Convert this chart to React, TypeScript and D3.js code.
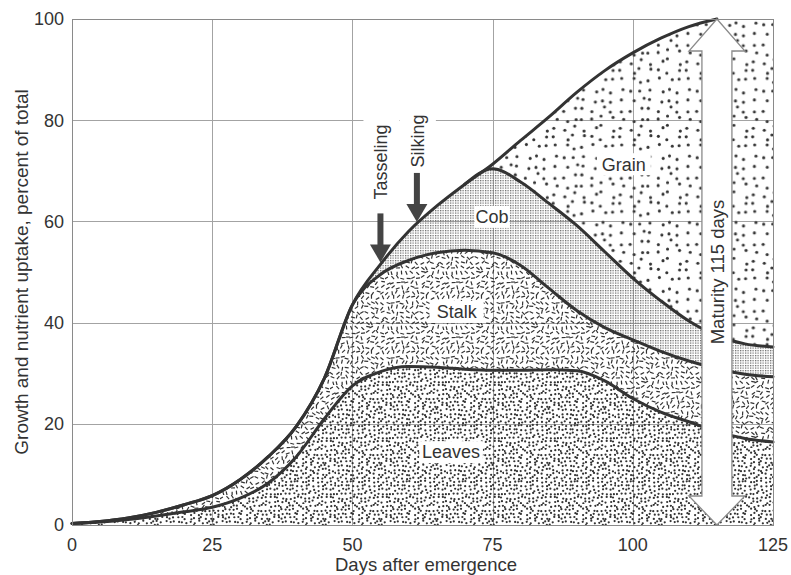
import React, { useMemo } from "react";
import * as d3 from "d3";

// ---- data (percent of total) ----
const days = [0, 5, 10, 15, 20, 25, 30, 35, 40, 45, 50, 55, 60, 65, 70, 75, 80, 85, 90, 95, 100, 105, 110, 115, 120, 125];
const leaves = [0.3, 0.6, 1.1, 1.8, 2.6, 3.5, 5.3, 8.3, 13.5, 21.0, 27.5, 30.3, 31.3, 31.2, 30.8, 30.6, 30.6, 30.7, 30.5, 28.5, 25.0, 22.3, 20.4, 18.5, 17.1, 16.4];
const stalk = [0, 0.1, 0.3, 0.7, 1.4, 2.3, 3.7, 5.2, 6.0, 8.0, 16.0, 19.2, 21.0, 22.6, 23.5, 23.2, 20.7, 16.1, 11.9, 10.5, 11.6, 12.0, 12.0, 12.4, 12.7, 12.9];
const cob = [0, 0, 0, 0, 0, 0, 0, 0, 0, 0, 0, 2.0, 5.7, 9.2, 13.0, 16.6, 16.5, 16.8, 16.8, 15.0, 12.2, 10.0, 7.9, 6.5, 6.0, 5.9];
const grain = [0, 0, 0, 0, 0, 0, 0, 0, 0, 0, 0, 0, 0, 0, 0, 0.9, 8.2, 17.0, 26.3, 35.8, 44.5, 51.9, 58.2, 62.6, 64.2, 64.8];
const seriesKeys = ["leaves", "stalk", "cob", "grain"];
const seriesLabels = ["Leaves", "Stalk", "Cob", "Grain"];
const xTicks = [0, 25, 50, 75, 100, 125];
const yTicks = [0, 20, 40, 60, 80, 100];
const events = [
  { label: "Tasseling", day: 55 },
  { label: "Silking", day: 61.5 },
];
const maturityDay = 115;

const W = 791;
const H = 575;
const FONT = "'Liberation Sans', Arial, Helvetica, sans-serif";
const INK = "#333";

function rng(seed: number) {
  let s = seed;
  return () => {
    s = (s * 16807) % 2147483647;
    return (s - 1) / 2147483646;
  };
}

function Patterns() {
  const leavesDots = useMemo(() => {
    const r = rng(7);
    const out: JSX.Element[] = [];
    const n = 14, c = 4;
    for (let i = 0; i < n; i++)
      for (let j = 0; j < n; j++)
        out.push(<circle key={i + "-" + j} cx={i * c + 0.6 + r() * 2.8} cy={j * c + 0.6 + r() * 2.8} r={1.12} fill="#333" />);
    return out;
  }, []);
  const stalkDashes = useMemo(() => {
    const r = rng(13);
    const out: JSX.Element[] = [];
    const n = 11, c = 5;
    for (let i = 0; i < n; i++)
      for (let j = 0; j < n; j++) {
        const cx = i * c + 1.2 + r() * 2.6;
        const cy = j * c + 1.2 + r() * 2.6;
        const a = r() * Math.PI;
        const L = 2.0;
        out.push(
          <line key={i + "-" + j} x1={cx - L * Math.cos(a)} y1={cy - L * Math.sin(a)} x2={cx + L * Math.cos(a)} y2={cy + L * Math.sin(a)} stroke="#333" strokeWidth={1.2} />
        );
      }
    return out;
  }, []);
  const grainDots = useMemo(() => {
    const r = rng(29);
    const out: JSX.Element[] = [];
    const n = 7, c = 9.5;
    for (let i = 0; i < n; i++)
      for (let j = 0; j < n; j++)
        out.push(<circle key={i + "-" + j} cx={i * c + 1.8 + r() * 6} cy={j * c + 1.8 + r() * 6} r={1.55} fill="#333" />);
    return out;
  }, []);
  return (
    <defs>
      <pattern id="pat-leaves" patternUnits="userSpaceOnUse" width={56} height={56}>
        {leavesDots}
      </pattern>
      <pattern id="pat-stalk" patternUnits="userSpaceOnUse" width={55} height={55}>
        {stalkDashes}
      </pattern>
      <pattern id="pat-cob" patternUnits="userSpaceOnUse" width={2.5} height={2.5}>
        <rect x={0} y={0} width={1.25} height={1.25} fill="#666" />
      </pattern>
      <pattern id="pat-grain" patternUnits="userSpaceOnUse" width={66.5} height={66.5}>
        {grainDots}
      </pattern>
    </defs>
  );
}

export default function App() {
  const x = d3.scaleLinear().domain([0, 125]).range([72, 773]);
  const y = d3.scaleLinear().domain([0, 100]).range([525, 19]);

  const rows = days.map((d, i) => ({ day: d, leaves: leaves[i], stalk: stalk[i], cob: cob[i], grain: grain[i] }));
  const stacked = d3.stack<any>().keys(seriesKeys)(rows);

  const area = d3
    .area<any>()
    .x((d) => x(d.data.day))
    .y0((d) => y(d[0]))
    .y1((d) => y(d[1]))
    .curve(d3.curveMonotoneX);
  const line = d3
    .line<any>()
    .x((d) => x(d.data.day))
    .y((d) => y(d[1]))
    .curve(d3.curveMonotoneX);

  const totalAt = (day: number) => {
    const tops = stacked[3].map((p) => p[1]);
    return d3.scaleLinear().domain(days).range(tops)(day);
  };

  const px = (v: number) => Math.round(v) + 0.5;

  // label centers in data units
  const labelPos: Record<string, [number, number]> = {
    leaves: [67.6, 14.4],
    stalk: [68.6, 42.1],
    cob: [74.9, 60.9],
    grain: [98.4, 71.3],
  };

  const mx = x(maturityDay);
  const yTop = y(100);
  const yBot = y(0);
  const headH = 32;
  const headW = 28;
  const shaftW = 15;
  const arrowPts = [
    [mx, yTop],
    [mx + headW, yTop + headH],
    [mx + shaftW, yTop + headH],
    [mx + shaftW, yBot - headH + 3],
    [mx + headW, yBot - headH + 3],
    [mx, yBot],
    [mx - headW, yBot - headH + 3],
    [mx - shaftW, yBot - headH + 3],
    [mx - shaftW, yTop + headH],
    [mx - headW, yTop + headH],
  ]
    .map((p) => p.join(","))
    .join(" ");

  return (
    <svg width={W} height={H} style={{ position: "absolute", left: 0, top: 0, background: "#fff" }} fontFamily={FONT}>
      <Patterns />
      <rect x={0} y={0} width={W} height={H} fill="#fff" />

      {/* grid */}
      <g stroke="#a3a3a3" strokeWidth={1}>
        {xTicks.map((t) => (
          <line key={"gx" + t} x1={px(x(t))} x2={px(x(t))} y1={y(100)} y2={y(0)} />
        ))}
        {yTicks.map((t) => (
          <line key={"gy" + t} x1={x(0)} x2={x(125)} y1={px(y(t))} y2={px(y(t))} />
        ))}
      </g>

      {/* stacked areas */}
      {stacked.map((s, i) => (
        <path key={seriesKeys[i]} d={area(s) || ""} fill={`url(#pat-${seriesKeys[i]})`} stroke="none" />
      ))}

      {/* boundary lines */}
      <g fill="none" stroke="#333" strokeWidth={3} strokeLinejoin="round" strokeLinecap="round">
        <path d={line(stacked[0]) || ""} />
        <path d={line(stacked[1]) || ""} />
        <path d={line(stacked[2].filter((d: any) => d.data.day >= 70)) || ""} />
        <path d={line(stacked[3].filter((d: any) => d.data.day <= maturityDay)) || ""} />
      </g>

      {/* region labels */}
      {seriesKeys.map((k, i) => {
        const [dx, dy] = labelPos[k];
        const cx = x(dx);
        const cy = y(dy);
        const w = seriesLabels[i].length * 9.6 + 6;
        return (
          <g key={"lab" + k}>
            <rect x={cx - w / 2} y={cy - 11} width={w} height={22} fill="#fff" />
            <text x={cx} y={cy} dy="0.35em" textAnchor="middle" fontSize={18} fill={INK}>
              {seriesLabels[i]}
            </text>
          </g>
        );
      })}

      {/* event arrows */}
      {events.map((e, i) => {
        const ex = x(e.day);
        const tip = y(totalAt(e.day)) - 2;
        const baseY = tip - 18;
        const shaftTop = tip - 49;
        const textCenter = i === 0 ? 162 : 141;
        return (
          <g key={e.label}>
            <rect x={ex - 17} y={textCenter - 44} width={36} height={shaftTop - (textCenter - 44) + 2} fill="#fff" />
            <rect x={ex - 3} y={shaftTop} width={6} height={baseY - shaftTop + 1} fill="#444" />
            <polygon points={`${ex - 10.5},${baseY} ${ex + 10.5},${baseY} ${ex},${tip}`} fill="#444" />
            <text transform={`translate(${ex + 7},${textCenter}) rotate(-90)`} textAnchor="middle" fontSize={18} fill={INK}>
              {e.label}
            </text>
          </g>
        );
      })}

      {/* maturity arrow */}
      <polygon points={arrowPts} fill="#fff" stroke="#8a8a8a" strokeWidth={1.3} strokeLinejoin="miter" />
      <text transform={`translate(${mx + 7},272) rotate(-90)`} textAnchor="middle" fontSize={18.5} fill={INK}>
        Maturity 115 days
      </text>

      {/* frame */}
      <rect x={px(x(0))} y={px(y(100))} width={Math.round(x(125) - x(0))} height={Math.round(y(0) - y(100))} fill="none" stroke="#8a8a8a" strokeWidth={1} />

      {/* axes labels */}
      {yTicks.map((t) => (
        <text key={"yt" + t} x={64} y={y(t)} dy="0.36em" textAnchor="end" fontSize={18} fill={INK}>
          {t}
        </text>
      ))}
      {xTicks.map((t) => (
        <text key={"xt" + t} x={x(t)} y={551} textAnchor="middle" fontSize={18} fill={INK}>
          {t}
        </text>
      ))}
      <text x={426} y={571} textAnchor="middle" fontSize={18.5} fill={INK}>
        Days after emergence
      </text>
      <text transform="translate(28,272) rotate(-90)" textAnchor="middle" fontSize={19} fill={INK}>
        Growth and nutrient uptake, percent of total
      </text>
    </svg>
  );
}
